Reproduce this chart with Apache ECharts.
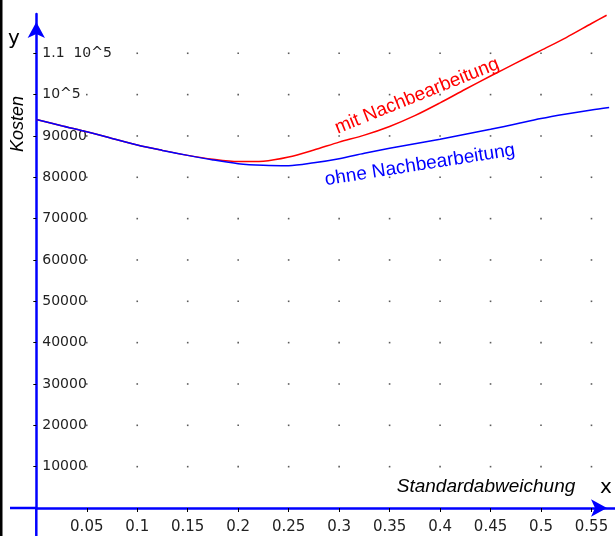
<!DOCTYPE html>
<html><head><meta charset="utf-8">
<script src="https://cdn.jsdelivr.net/npm/echarts@6/dist/echarts.min.js"></script>
<style>html,body{margin:0;padding:0;background:#fff}#c{width:615px;height:536px}</style>
</head><body><div id="c"></div>
<script>
// Data
const xMit  = [0, 0.025, 0.05, 0.075, 0.1, 0.125, 0.15, 0.175, 0.2, 0.225, 0.25, 0.275, 0.3, 0.325, 0.35, 0.375, 0.4, 0.425, 0.45, 0.475, 0.5, 0.525, 0.55, 0.565];
const yMit  = [94000, 92450, 91000, 89400, 87800, 86500, 85300, 84350, 83800, 83900, 84900, 86600, 88500, 90200, 92300, 94900, 98000, 101300, 104500, 107600, 110700, 113800, 117200, 119200];
const xOhne = [0, 0.025, 0.05, 0.075, 0.1, 0.125, 0.15, 0.175, 0.2, 0.225, 0.25, 0.275, 0.3, 0.325, 0.35, 0.375, 0.4, 0.425, 0.45, 0.475, 0.5, 0.525, 0.55, 0.5675];
const yOhne = [94000, 92450, 91000, 89400, 87800, 86500, 85300, 84200, 83300, 82900, 82800, 83500, 84500, 85800, 87000, 88100, 89200, 90400, 91600, 92900, 94200, 95300, 96300, 96900];

const xTickValues = [0.05, 0.1, 0.15, 0.2, 0.25, 0.3, 0.35, 0.4, 0.45, 0.5, 0.55];
const xTickLabels = ['0.05', '0.1', '0.15', '0.2', '0.25', '0.3', '0.35', '0.4', '0.45', '0.5', '0.55'];
const yTickValues = [10000, 20000, 30000, 40000, 50000, 60000, 70000, 80000, 90000, 100000, 110000];
const yTickLabels = ['10000', '20000', '30000', '40000', '50000', '60000', '70000', '80000', '90000', '10^5', '1.1  10^5'];

const xAxisName = 'Standardabweichung';
const yAxisName = 'Kosten';
const nameMit = 'mit Nachbearbeitung';
const nameOhne = 'ohne Nachbearbeitung';

function lookup(values, labels) {
  return function (v) {
    for (let i = 0; i < values.length; i++) {
      if (Math.abs(v - values[i]) < 1e-7 * Math.max(1, Math.abs(values[i]))) return labels[i];
    }
    return '';
  };
}
const pairs = (xs, ys) => xs.map((x, i) => [x, ys[i]]);
const gridDots = [];
xTickValues.forEach(x => yTickValues.forEach(y => gridDots.push([x, y])));

const chart = echarts.init(document.getElementById('c'), null, {renderer: 'canvas'});
const BLUE = '#0000ff';
const GL = 36.3, GB = 28, GT = 14;
chart.setOption({
  animation: false,
  backgroundColor: '#ffffff',
  grid: {left: GL, right: 0, top: GT, bottom: GB, containLabel: false, outerBoundsMode: 'none'},
  xAxis: {
    type: 'value', min: 0, max: 0.5733,
    axisLine: {onZero: false, lineStyle: {color: BLUE, width: 2.5}, symbol: ['none', 'arrow'], symbolSize: [13, 16], symbolOffset: [0, -8]},
    axisTick: {show: true, customValues: xTickValues, length: 4, lineStyle: {color: '#000', width: 1}},
    axisLabel: {show: true, customValues: xTickValues, formatter: lookup(xTickValues, xTickLabels), margin: 12, fontFamily: 'DejaVu Sans', fontSize: 15, color: '#222', hideOverlap: false},
    splitLine: {show: false}
  },
  yAxis: {
    type: 'value', min: 0, max: 119500,
    axisLine: {onZero: false, lineStyle: {color: BLUE, width: 2.5}, symbol: ['none', 'arrow'], symbolSize: [13, 16], symbolOffset: [0, -8]},
    axisTick: {show: true, customValues: yTickValues, length: 3, lineStyle: {color: '#000', width: 1}},
    axisLabel: {inside: true, align: 'left', customValues: yTickValues, formatter: lookup(yTickValues, yTickLabels), margin: 6, fontFamily: 'DejaVu Sans', fontSize: 14, color: '#222'},
    splitLine: {show: false}
  },
  series: [
    {type: 'scatter', data: gridDots, symbol: 'rect', symbolSize: 1.6, itemStyle: {color: '#333'}, silent: true, z: 1},
    {type: 'line', name: nameOhne, data: pairs(xOhne, yOhne), smooth: 0.3, symbol: 'none', lineStyle: {color: BLUE, width: 1.5}, z: 3},
    {type: 'line', name: nameMit, data: pairs(xMit, yMit), smooth: 0.3, symbol: 'none', lineStyle: {color: '#ff0000', width: 1.5}, z: 2}
  ],
  graphic: [
    {type: 'rect', shape: {x: 0, y: 0, width: 2.5, height: 536}, style: {fill: '#000'}, silent: true},
    {type: 'line', shape: {x1: 10, y1: 508, x2: GL, y2: 508}, style: {stroke: BLUE, lineWidth: 2.5}, silent: true},
    {type: 'line', shape: {x1: GL, y1: 508, x2: GL, y2: 536}, style: {stroke: BLUE, lineWidth: 2.5}, silent: true},
    {type: 'text', x: 14, y: 39, style: {text: 'y', font: '20px "DejaVu Sans"', fill: '#000', align: 'center', verticalAlign: 'middle'}},
    {type: 'text', x: 606, y: 488, style: {text: 'x', font: '20px "DejaVu Sans"', fill: '#000', align: 'center', verticalAlign: 'middle'}},
    {type: 'text', x: 17.5, y: 124, rotation: Math.PI / 2, style: {text: yAxisName, font: 'italic 18px "Liberation Sans"', fill: '#000', align: 'center', verticalAlign: 'middle'}},
    {type: 'text', x: 486, y: 487, style: {text: xAxisName, font: 'italic 19px "Liberation Sans"', fill: '#000', align: 'center', verticalAlign: 'middle'}},
    {type: 'text', x: 417, y: 96, rotation: 22 * Math.PI / 180, style: {text: nameMit, font: '19px "Liberation Sans"', fill: '#ff0000', align: 'center', verticalAlign: 'middle'}},
    {type: 'text', x: 420, y: 165, rotation: 9 * Math.PI / 180, style: {text: nameOhne, font: '19px "Liberation Sans"', fill: BLUE, align: 'center', verticalAlign: 'middle'}}
  ]
});
</script>
</body></html>
